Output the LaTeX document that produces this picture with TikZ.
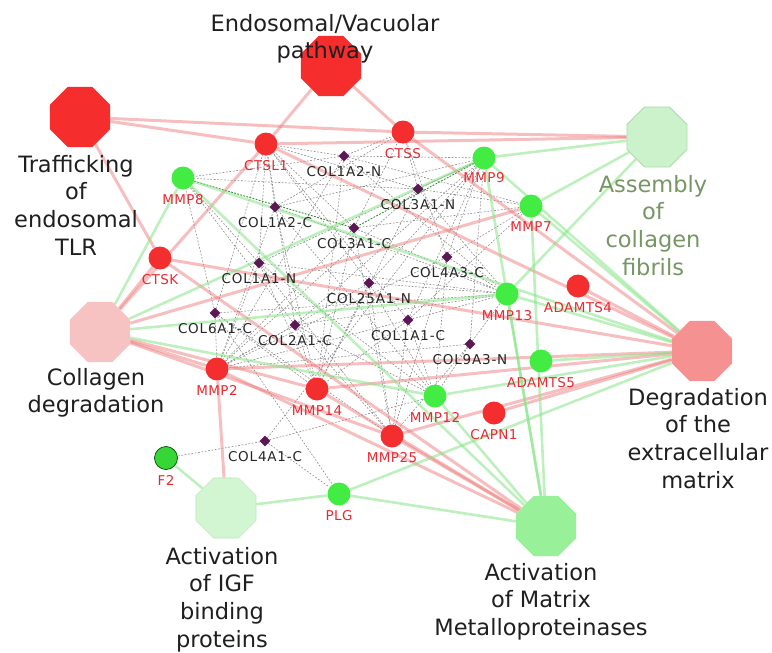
\documentclass[tikz,border=0pt]{standalone}
\usepackage{fontspec}
\setmainfont{DejaVu Sans}
\newfontfamily\genefont{DejaVu Sans}[LetterSpace=3]
\newfontfamily\fragfont{DejaVu Sans}[LetterSpace=6]
\usetikzlibrary{shapes.geometric}
\pgfdeclarelayer{edges}
\pgfsetlayers{edges,main}

\definecolor{genered}{RGB}{244,46,46}
\definecolor{genegreen}{RGB}{66,236,66}
\definecolor{f2green}{RGB}{54,214,54}
\definecolor{labred}{RGB}{234,40,50}
\definecolor{fragpurple}{RGB}{92,24,86}
\definecolor{edgered}{RGB}{238,125,125}
\definecolor{edgegreen}{RGB}{135,228,135}
\definecolor{goRed}{RGB}{245,45,45}
\definecolor{goPink}{RGB}{247,194,194}
\definecolor{goSalmon}{RGB}{245,145,145}
\definecolor{goPale}{RGB}{204,242,204}
\definecolor{goPaleEdge}{RGB}{172,220,172}
\definecolor{goMint}{RGB}{210,246,210}
\definecolor{goGreen}{RGB}{152,240,152}
\definecolor{asmtext}{RGB}{118,150,100}

\tikzset{
  goterm/.style={regular polygon, regular polygon sides=8, minimum size=65pt,
                 inner sep=0pt, draw=none},
  golabel/.style={font=\fontsize{22.5}{27.7}\selectfont, align=center,
                  anchor=north, inner sep=0pt, text=black!88},
  gene/.style={circle, minimum size=23pt, inner sep=0pt},
  redgene/.style={gene, fill=genered},
  greengene/.style={gene, fill=genegreen},
  genelabel/.style={font=\genefont\fontsize{13.5}{13.5}\selectfont, text=labred,
                    inner sep=0pt, label distance=5pt},
  frag/.style={diamond, minimum size=11pt, inner sep=0pt, fill=fragpurple},
  fraglabel/.style={font=\fragfont\fontsize{13.5}{13.5}\selectfont,
                    text=black!85, inner sep=0pt, label distance=4.5pt},
  redlink/.style={draw=edgered, line width=3pt, opacity=0.5},
  greenlink/.style={draw=edgegreen, line width=2.6pt, opacity=0.55},
  fraglink/.style={draw=black!45, line width=0.6pt, dash pattern=on 1.8pt off 1.6pt},
  greenfrag/.style={draw=green!45!black, line width=0.9pt, dash pattern=on 1.8pt off 1.4pt, opacity=0.8}
}

\begin{document}
\begin{tikzpicture}[x=1pt, y=-1pt]
\useasboundingbox (0,0) rectangle (772,653);

% pathway (GO term) nodes
\node[goterm, fill=goRed]    (E)  at (331,66)  {};
\node[goterm, fill=goRed]    (T)  at (80,117)  {};
\node[goterm, fill=goPale, draw=goPaleEdge, line width=0.8pt] (A) at (657,137) {};
\node[goterm, fill=goPink]   (CD) at (100,332) {};
\node[goterm, fill=goSalmon] (D)  at (702,351) {};
\node[goterm, fill=goMint, draw=goPaleEdge!60!goMint, line width=0.6pt] (I) at (226,508) {};
\node[goterm, fill=goGreen]  (M)  at (546,526) {};

% genes
\node[redgene,   label={[genelabel]below:CTSL1}]   (ctsl1)   at (266,144) {};
\node[redgene,   label={[genelabel]below:CTSS}]    (ctss)    at (403,132) {};
\node[greengene, label={[genelabel]below:MMP8}]    (mmp8)    at (183,178) {};
\node[greengene, label={[genelabel, label distance=3pt]below:MMP9}] (mmp9) at (484,158) {};
\node[greengene, label={[genelabel, label distance=4pt]below:MMP7}] (mmp7) at (531,206) {};
\node[redgene,   label={[genelabel]below:CTSK}]    (ctsk)    at (160,258) {};
\node[redgene,   label={[genelabel]below:ADAMTS4}] (adamts4) at (578,286) {};
\node[greengene, label={[genelabel]below:MMP13}]   (mmp13)   at (507,294) {};
\node[greengene, label={[genelabel]below:ADAMTS5}] (adamts5) at (541,361) {};
\node[greengene, label={[genelabel]below:MMP12}]   (mmp12)   at (435,396) {};
\node[redgene,   label={[genelabel]below:CAPN1}]   (capn1)   at (494,413) {};
\node[redgene,   label={[genelabel]below:MMP2}]    (mmp2)    at (217,369) {};
\node[redgene,   label={[genelabel]below:MMP14}]   (mmp14)   at (317,389) {};
\node[redgene,   label={[genelabel]below:MMP25}]   (mmp25)   at (392,436) {};
\node[greengene, draw=green!30!black, line width=0.7pt, fill=f2green,
      label={[genelabel]below:F2}] (f2) at (166,458) {};
\node[greengene, label={[genelabel]below:PLG}]     (plg)     at (339,494) {};

% collagen fragments
\node[frag, label={[fraglabel]below:COL1A2-N}]  (c1a2n)  at (344,156) {};
\node[frag, label={[fraglabel]below:COL1A2-C}]  (c1a2c)  at (275,207) {};
\node[frag, label={[fraglabel]below:COL3A1-N}]  (c3a1n)  at (418,189) {};
\node[frag, label={[fraglabel]below:COL3A1-C}]  (c3a1c)  at (354,228) {};
\node[frag, label={[fraglabel]below:COL1A1-N}]  (c1a1n)  at (259,263) {};
\node[frag, label={[fraglabel]below:COL4A3-C}]  (c4a3c)  at (447,257) {};
\node[frag, label={[fraglabel]below:COL25A1-N}] (c25a1n) at (369,283) {};
\node[frag, label={[fraglabel]below:COL6A1-C}]  (c6a1c)  at (215,313) {};
\node[frag, label={[fraglabel]below:COL2A1-C}]  (c2a1c)  at (295,325) {};
\node[frag, label={[fraglabel]below:COL1A1-C}]  (c1a1c)  at (408,320) {};
\node[frag, label={[fraglabel]below:COL9A3-N}]  (c9a3n)  at (470,344) {};
\node[frag, label={[fraglabel]below:COL4A1-C}]  (c4a1c)  at (265,441) {};

% pathway names
\node[golabel] (Elab)  at (325,14)  {Endosomal/Vacuolar\\pathway};
\node[golabel] (Tlab)  at (76,155)  {Trafficking\\of\\endosomal\\TLR};
\node[golabel, text=asmtext] (Alab) at (653,175) {Assembly\\of\\collagen\\fibrils};
\node[golabel] (CDlab) at (96,368)  {Collagen\\degradation};
\node[golabel] (Dlab)  at (698,388) {Degradation\\of the\\extracellular\\matrix};
\node[golabel] (Ilab)  at (222,547) {Activation\\of IGF\\binding\\proteins};
\node[golabel] (Mlab)  at (541,563) {Activation\\of Matrix\\Metalloproteinases};

\begin{pgfonlayer}{edges}
  % fragment--protease links
  \foreach \f/\g in {
    c1a2n/ctsl1, c1a2n/ctss, c1a2n/mmp9, c1a2n/mmp7, c1a2n/mmp13, c1a2n/mmp8, c1a2n/mmp2, c1a2n/mmp14,
    c1a2c/ctsl1, c1a2c/mmp9, c1a2c/mmp13, c1a2c/mmp2, c1a2c/mmp14, c1a2c/mmp12, c1a2c/ctss,
    c3a1n/ctsl1, c3a1n/mmp9, c3a1n/mmp7, c3a1n/mmp13, c3a1n/mmp2, c3a1n/mmp14, c3a1n/mmp8, c3a1n/ctss,
    c3a1c/ctsl1, c3a1c/mmp7, c3a1c/mmp13, c3a1c/mmp2, c3a1c/mmp14, c3a1c/mmp25, c3a1c/ctss,
    c1a1n/ctsl1, c1a1n/mmp8, c1a1n/mmp9, c1a1n/mmp13, c1a1n/mmp2, c1a1n/mmp14, c1a1n/mmp12, c1a1n/mmp25,
    c4a3c/mmp9, c4a3c/mmp13, c4a3c/mmp12, c4a3c/mmp2, c4a3c/mmp7, c4a3c/mmp25, c4a3c/ctss,
    c25a1n/ctsl1, c25a1n/mmp9, c25a1n/mmp13, c25a1n/mmp14, c25a1n/mmp25, c25a1n/mmp12, c25a1n/mmp2,
    c6a1c/mmp8, c6a1c/ctsl1, c6a1c/mmp2, c6a1c/mmp14, c6a1c/mmp25, c6a1c/mmp13, c6a1c/plg,
    c2a1c/ctsl1, c2a1c/mmp8, c2a1c/mmp9, c2a1c/mmp2, c2a1c/mmp14, c2a1c/mmp13, c2a1c/mmp25, c2a1c/mmp12,
    c1a1c/ctsl1, c1a1c/mmp9, c1a1c/mmp13, c1a1c/mmp14, c1a1c/mmp12, c1a1c/mmp25, c1a1c/mmp2, c1a1c/mmp7,
    c9a3n/mmp13, c9a3n/mmp12, c9a3n/mmp9, c9a3n/mmp25, c9a3n/mmp2,
    c4a1c/f2, c4a1c/plg, c4a1c/mmp12, c4a1c/mmp9}
    \draw[fraglink] (\f) -- (\g);
  \draw[greenfrag] (mmp8) -- (c3a1c);
  \draw[greenfrag] (mmp9) -- (c3a1c);

  % pathway membership, red genes
  \foreach \p/\g in {
    E/ctsl1, E/ctss, T/ctsl1, T/ctss, T/ctsk, A/ctsl1, A/ctss,
    CD/ctsk, CD/ctsl1, CD/mmp2, CD/mmp14, CD/mmp25, CD/mmp7,
    D/ctsl1, D/ctss, D/ctsk, D/adamts4, D/capn1, D/mmp2, D/mmp14, D/mmp25,
    M/mmp2, M/mmp14, M/mmp25, M/ctsk, I/mmp2}
    \draw[redlink] (\p) -- (\g);

  % pathway membership, green genes
  \foreach \p/\g in {
    A/mmp9, A/mmp7, A/mmp13,
    CD/mmp8, CD/mmp9, CD/mmp13, CD/mmp12,
    D/mmp8, D/mmp9, D/mmp7, D/mmp13, D/adamts5, D/mmp12, D/plg,
    M/mmp8, M/mmp9, M/mmp7, M/mmp13, M/mmp12, M/plg,
    I/f2, I/plg}
    \draw[greenlink] (\p) -- (\g);
\end{pgfonlayer}
\end{tikzpicture}
\end{document}
